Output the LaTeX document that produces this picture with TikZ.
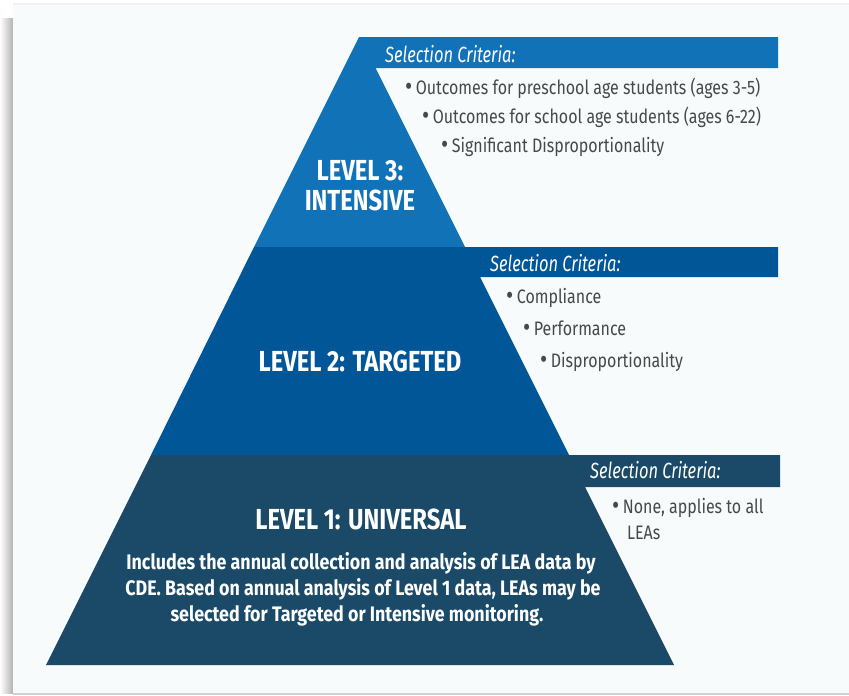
\documentclass[tikz,border=0pt]{standalone}
\usepackage{fontspec}
\setmainfont{Fira Sans}[FakeStretch=0.82]
\newfontfamily\descfont{Fira Sans}[FakeStretch=0.85]
\newfontfamily\critfont{Fira Sans}[FakeStretch=0.75]
\definecolor{cardbg}{RGB}{247,251,251}
\definecolor{lvthree}{RGB}{17,114,184}
\definecolor{lvtwo}{RGB}{0,86,150}
\definecolor{lvone}{RGB}{27,74,104}
\definecolor{bultext}{RGB}{72,72,72}
\newcommand{\bigbul}{\raisebox{-1.2pt}{\fontsize{27}{22}\selectfont•}\hspace{3.5pt}}
\tikzset{
  leveltitle/.style={text=white, font=\fontsize{29}{32}\selectfont\bfseries, inner sep=0pt, anchor=base},
  leveldesc/.style={text=white, font=\descfont\fontsize{21}{24}\selectfont\bfseries, inner sep=0pt, anchor=base},
  critlabel/.style={text=white, font=\critfont\fontsize{22}{24}\selectfont\itshape, inner sep=0pt, anchor=base west},
  bulletitem/.style={text=bultext, font=\fontsize{19.5}{22}\selectfont, inner sep=0pt, anchor=base west}
}
\begin{document}
\begin{tikzpicture}[x=1pt,y=-1pt]
\useasboundingbox (0,0) rectangle (849,696);
\fill[white] (0,0) rectangle (849,696);
\shade[left color=white, right color=black!30] (0,18) rectangle (13,693);
\fill[black!6] (13,3) rectangle (849,5);
\fill[cardbg] (13,5) rectangle (849,693);
\fill[black!18] (13,693) rectangle (849,695);
% pyramid levels
\fill[lvthree] (359,37) -- (778,37) -- (778,68) -- (375.5,68) -- (465,247) -- (254,247) -- cycle;
\fill[lvtwo] (254,247) -- (778,247) -- (778,277) -- (480,277) -- (569,455) -- (151,455) -- cycle;
\fill[lvone] (151,455) -- (780,455) -- (780,487) -- (585,487) -- (674,665) -- (46,665) -- cycle;
% level 3
\node[critlabel] (crit3) at (385,62) {Selection Criteria:};
\node[bulletitem] (b3a) at (405,94) {\bigbul Outcomes for preschool age students (ages 3-5)};
\node[bulletitem] (b3b) at (422,123) {\bigbul Outcomes for school age students (ages 6-22)};
\node[bulletitem] (b3c) at (441,152) {\bigbul Significant Disproportionality};
\node[leveltitle] (t3a) at (360,180) {LEVEL 3:};
\node[leveltitle] (t3b) at (360,210) {INTENSIVE};
% level 2
\node[critlabel] (crit2) at (490,271) {Selection Criteria:};
\node[bulletitem] (b2a) at (506,303) {\bigbul Compliance};
\node[bulletitem] (b2b) at (523,335) {\bigbul Performance};
\node[bulletitem] (b2c) at (540,367) {\bigbul Disproportionality};
\node[leveltitle] (t2) at (360,371) {LEVEL 2: TARGETED};
% level 1
\node[critlabel] (crit1) at (590,478) {Selection Criteria:};
\node[bulletitem] (b1a) at (612,513) {\bigbul None, applies to all};
\node[bulletitem] (b1b) at (627,539) {LEAs};
\node[leveltitle] (t1) at (361,529) {LEVEL 1: UNIVERSAL};
\node[leveldesc] (d1) at (361,569) {Includes the annual collection and analysis of LEA data by};
\node[leveldesc] (d2) at (363,595) {CDE. Based on annual analysis of Level 1 data, LEAs may be};
\node[leveldesc] (d3) at (357,621) {selected for Targeted or Intensive monitoring.};
\end{tikzpicture}
\end{document}
